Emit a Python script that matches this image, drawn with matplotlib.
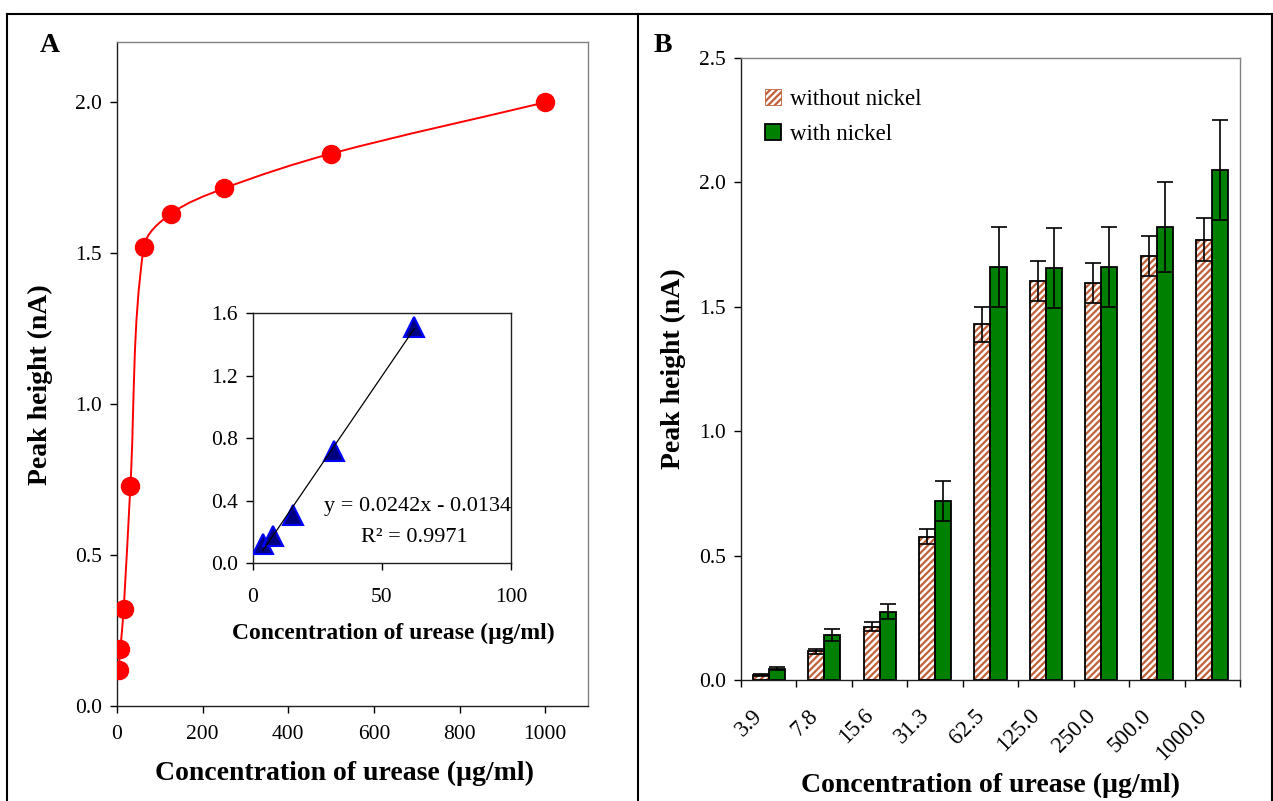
import numpy as np
import matplotlib
matplotlib.use("Agg")
import matplotlib.pyplot as plt
from matplotlib.lines import Line2D
from matplotlib.path import Path
from matplotlib.patches import PathPatch

plt.rcParams['font.family'] = ['Liberation Serif', 'DejaVu Serif']
plt.rcParams['hatch.linewidth'] = 1.6

# panel A: calibration curve
conc = [3.9, 7.8, 15.6, 31.3, 62.5, 125, 250, 500, 1000]
peak = [0.12, 0.19, 0.32, 0.73, 1.52, 1.63, 1.715, 1.83, 2.0]

# inset: linear range
lin_conc = [3.9, 7.8, 15.6, 31.3, 62.5]
lin_peak = [0.12, 0.17, 0.31, 0.72, 1.51]
slope, intercept = 0.0242, -0.0134

# panel B: with / without nickel
cat_labels = ["3.9", "7.8", "15.6", "31.3", "62.5", "125.0", "250.0", "500.0", "1000.0"]
without_ni = [0.02, 0.115, 0.215, 0.575, 1.43, 1.605, 1.595, 1.705, 1.77]
without_err = [0.004, 0.01, 0.02, 0.03, 0.07, 0.08, 0.08, 0.08, 0.085]
with_ni = [0.045, 0.18, 0.275, 0.72, 1.66, 1.655, 1.66, 1.82, 2.05]
with_err = [0.006, 0.025, 0.03, 0.08, 0.16, 0.16, 0.16, 0.18, 0.2]

TICK = 15.5
LABEL = 20

W, H = 1273, 801
fig = plt.figure(figsize=(W / 100, H / 100), dpi=100)


def style_spines(ax):
    for s in ['top', 'right']:
        ax.spines[s].set_color('#808080')
    for s in ['left', 'bottom']:
        ax.spines[s].set_color('#202020')
    for s in ax.spines.values():
        s.set_linewidth(1.0)
    ax.tick_params(direction='out', length=5, width=1, colors='black', labelsize=TICK)


def smooth_path(ax, xs, ys):
    # smoothed line like a spreadsheet chart: Bezier segments built in screen space
    pts = ax.transData.transform(np.column_stack([xs, ys]))
    n = len(pts)
    verts = [pts[0]]
    codes = [Path.MOVETO]
    for i in range(n - 1):
        p0, p1 = pts[max(i - 1, 0)], pts[i]
        p2, p3 = pts[i + 1], pts[min(i + 2, n - 1)]
        seg = np.linalg.norm(p2 - p1)
        d1 = (p2 - p0) / np.linalg.norm(p2 - p0)
        d2 = (p3 - p1) / np.linalg.norm(p3 - p1)
        verts += [p1 + d1 * seg / 3, p2 - d2 * seg / 3, p2]
        codes += [Path.CURVE4] * 3
    verts = ax.transData.inverted().transform(np.array(verts))
    return Path(verts, codes)


# ---- panel A ----
axA = fig.add_axes([117 / W, 1 - 706 / H, 471 / W, 664 / H])
axA.set_xlim(0, 1100)
axA.set_ylim(0, 2.2)
axA.add_patch(PathPatch(smooth_path(axA, conc, peak), facecolor='none', edgecolor='red',
                        lw=1.4, zorder=2))
axA.plot(conc, peak, linestyle='none', marker='o', ms=13, mfc='red', mec='red', zorder=3)
axA.set_xticks([0, 200, 400, 600, 800, 1000])
axA.set_yticks([0.0, 0.5, 1.0, 1.5, 2.0])
axA.set_yticklabels(["0.0", "0.5", "1.0", "1.5", "2.0"])
style_spines(axA)
axA.tick_params(axis='x', pad=9)
axA.tick_params(axis='y', pad=6)
axA.set_xlabel("Concentration of urease (µg/ml)", fontsize=LABEL, fontweight='bold', va='center')
axA.xaxis.set_label_coords(0.484, -0.101)
axA.set_ylabel("Peak height (nA)", fontsize=LABEL, fontweight='bold', va='center')
axA.yaxis.set_label_coords(-0.163, 0.484)

# inset
axI = fig.add_axes([253 / W, 1 - 563 / H, 258 / W, 250 / H])
axI.plot(lin_conc, lin_peak, linestyle='none', marker='^', ms=14, mfc='#000080', mec='#0000ff',
         mew=1.5, zorder=3)
fx = np.array([lin_conc[0], lin_conc[-1]])
axI.plot(fx, slope * fx + intercept, color='black', lw=0.9, zorder=4)
axI.set_xlim(0, 100)
axI.set_ylim(0, 1.6)
axI.set_xticks([0, 50, 100])
axI.set_yticks([0.0, 0.4, 0.8, 1.2, 1.6])
axI.set_yticklabels(["0.0", "0.4", "0.8", "1.2", "1.6"])
style_spines(axI)
axI.spines['top'].set_color('#202020')
axI.spines['right'].set_color('#202020')
axI.tick_params(axis='x', pad=13)
axI.tick_params(axis='y', pad=6)
axI.set_xlabel("Concentration of urease (µg/ml)", fontsize=17, fontweight='bold', va='center')
axI.xaxis.set_label_coords(0.543, -0.28)
axI.text(1.0, 0.228, "y = 0.0242x - 0.0134", transform=axI.transAxes, ha='right', va='center',
         fontsize=16)
axI.text(0.83, 0.104, "R² = 0.9971", transform=axI.transAxes, ha='right', va='center', fontsize=16)

# ---- panel B ----
axB = fig.add_axes([741 / W, 1 - 680 / H, 499 / W, 622 / H])
x = np.arange(len(cat_labels))
bw = 0.29
hatch_col = '#c0603a'
axB.bar(x - bw / 2, without_ni, bw, color='white', edgecolor=hatch_col, lw=0,
        hatch='/////', label='without nickel', zorder=2)
axB.bar(x - bw / 2, without_ni, bw, color='none', edgecolor='black', lw=1.3, zorder=3)
axB.bar(x + bw / 2, with_ni, bw, color='#008000', edgecolor='black', lw=1.3,
        label='with nickel', zorder=2)
axB.errorbar(x - bw / 2, without_ni, yerr=without_err, fmt='none', ecolor='black',
             elinewidth=1.2, capsize=6, capthick=1.2, zorder=4)
axB.errorbar(x + bw / 2, with_ni, yerr=with_err, fmt='none', ecolor='black',
             elinewidth=1.2, capsize=6, capthick=1.2, zorder=4)
axB.set_xlim(-0.5, len(cat_labels) - 0.5)
axB.set_ylim(0, 2.5)
axB.set_yticks([0.0, 0.5, 1.0, 1.5, 2.0, 2.5])
axB.set_yticklabels(["0.0", "0.5", "1.0", "1.5", "2.0", "2.5"])
style_spines(axB)
# tick marks sit between categories; labels hang from invisible minor ticks
axB.set_xticks(np.arange(len(cat_labels) + 1) - 0.5)
axB.set_xticklabels([])
axB.set_xticks(x - 0.3, minor=True)
axB.set_xticklabels(cat_labels, minor=True, rotation=45, ha='right', rotation_mode='anchor',
                    fontsize=16.5)
axB.tick_params(axis='x', which='minor', length=0, pad=18)
axB.tick_params(axis='y', pad=6)
axB.set_xlabel("Concentration of urease (µg/ml)", fontsize=LABEL, fontweight='bold', va='center')
axB.xaxis.set_label_coords(0.499, -0.169)
axB.set_ylabel("Peak height (nA)", fontsize=LABEL, fontweight='bold', va='center')
axB.yaxis.set_label_coords(-0.136, 0.50)

leg = axB.legend(loc='upper left', bbox_to_anchor=(0.02, 0.972), frameon=False, fontsize=16.5,
                 handlelength=0.7, handleheight=0.7, handletextpad=0.4, labelspacing=0.6,
                 borderaxespad=0.2)
leg.get_patches()[0].set_edgecolor(hatch_col)
leg.get_patches()[0].set_linewidth(0.6)

# panel letters
fig.text(40 / W, 1 - 45 / H, "A", fontsize=20, fontweight='bold', ha='left', va='center')
fig.text(654 / W, 1 - 45 / H, "B", fontsize=20, fontweight='bold', ha='left', va='center')

# outer frame
frame_kw = dict(color='black', lw=1.5, transform=fig.transFigure)
fig.add_artist(Line2D([7 / W, 1272 / W], [1 - 14 / H, 1 - 14 / H], **frame_kw))
fig.add_artist(Line2D([7 / W, 7 / W], [0, 1 - 14 / H], **frame_kw))
fig.add_artist(Line2D([638 / W, 638 / W], [0, 1 - 14 / H], **frame_kw))
fig.add_artist(Line2D([1272 / W, 1272 / W], [0, 1 - 14 / H], **frame_kw))

fig.savefig("out.png", dpi=100)
